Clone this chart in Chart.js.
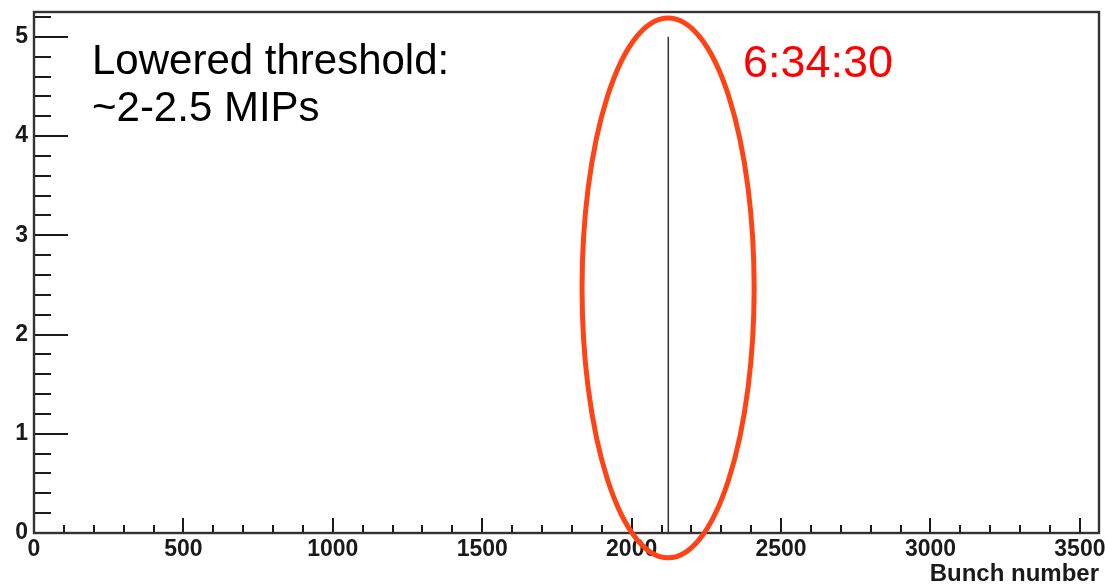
<!DOCTYPE html>
<html>
<head>
<meta charset="utf-8">
<script src="https://cdn.jsdelivr.net/npm/chart.js@4"></script>
<style>
  body { margin: 0; background: #fff; }
  #wrap { width: 1105px; height: 586px; }
</style>
</head>
<body>
<div id="wrap"><canvas id="bunchChart" width="1105" height="586"></canvas></div>
<script>
// Filled bunches and their hit counts
const bunches = [2122];
const counts = [5];

// Axis ranges and labelled ticks
const xRange = [0, 3564];
const yRange = [0, 5.25];
const xTickValues = [0, 500, 1000, 1500, 2000, 2500, 3000, 3500];
const yTickValues = [0, 1, 2, 3, 4, 5];

// Notes drawn on the plot
const noteLines = ["Lowered threshold:", "~2-2.5 MIPs"];
const timeLabel = "6:34:30";
// Circled region: centre bunch / centre count and half-widths
const ringCenter = [2122, 2.47];
const ringRadius = [288, 2.72];

// Build step outline of the histogram from the bins
function histogramPoints() {
  const pts = [{ x: xRange[0], y: 0 }];
  bunches.forEach((b, i) => {
    pts.push({ x: b, y: 0 }, { x: b, y: counts[i] }, { x: b + 1, y: counts[i] }, { x: b + 1, y: 0 });
  });
  pts.push({ x: xRange[1], y: 0 });
  return pts;
}

const ink = "#1a1a1a";

// ROOT-style inward ticks, frame, ellipse and notes
const frameTicks = {
  id: "frameTicks",
  afterDatasetsDraw(chart) {
    const { ctx, chartArea: a, scales: { x, y } } = chart;
    ctx.save();
    ctx.strokeStyle = ink;
    ctx.lineWidth = 2;
    ctx.beginPath();
    for (let v = 0; v <= xRange[1]; v += 100) {
      const px = Math.round(x.getPixelForValue(v));
      const len = v % 500 === 0 ? 15 : 8;
      ctx.moveTo(px, a.bottom);
      ctx.lineTo(px, a.bottom - len);
    }
    for (let v = 0; v <= yRange[1] + 1e-6; v += 0.2) {
      const py = Math.round(y.getPixelForValue(v));
      const major = Math.abs(v - Math.round(v)) < 1e-6;
      ctx.moveTo(a.left, py);
      ctx.lineTo(a.left + (major ? 34 : 17), py);
    }
    ctx.stroke();

    ctx.lineWidth = 2.4;
    ctx.strokeStyle = "#333";
    ctx.strokeRect(a.left, a.top, a.right - a.left, a.bottom - a.top);

    // red ring around the spike
    const cx = x.getPixelForValue(ringCenter[0]);
    const cy = y.getPixelForValue(ringCenter[1]);
    const rx = x.getPixelForValue(ringCenter[0] + ringRadius[0]) - cx;
    const ry = cy - y.getPixelForValue(ringCenter[1] + ringRadius[1]);
    ctx.beginPath();
    ctx.ellipse(cx, cy, rx, ry, 0, 0, Math.PI * 2);
    ctx.strokeStyle = "#ff4314";
    ctx.lineWidth = 5;
    ctx.stroke();

    ctx.textAlign = "left";
    ctx.textBaseline = "alphabetic";
    ctx.fillStyle = "#000";
    ctx.font = "42px 'Liberation Sans', Arial, sans-serif";
    noteLines.forEach((t, i) => ctx.fillText(t, 92, 74 + i * 47));

    ctx.fillStyle = "#ff0000";
    ctx.font = "45px 'Liberation Sans', Arial, sans-serif";
    ctx.fillText(timeLabel, 743, 77);
    ctx.restore();
  }
};

const tickFont = { family: "'Liberation Sans', Arial, sans-serif", size: 23, weight: "bold" };

// keep the frame fixed: no extra room for overhanging end labels
function noOverhang(s) {
  s.paddingLeft = s.paddingRight = s.paddingTop = s.paddingBottom = 0;
}

new Chart(document.getElementById("bunchChart"), {
  type: "line",
  data: {
    datasets: [{
      data: histogramPoints(),
      borderColor: "#333",
      borderWidth: 1.5,
      pointRadius: 0,
      tension: 0,
      fill: false
    }]
  },
  options: {
    responsive: false,
    animation: false,
    layout: { padding: { top: 12, right: 6, left: 0, bottom: 0 } },
    plugins: { legend: { display: false }, tooltip: { enabled: false } },
    scales: {
      x: {
        type: "linear",
        min: xRange[0],
        max: xRange[1],
        grid: { display: false, drawTicks: false },
        border: { display: false },
        afterBuildTicks: s => { s.ticks = xTickValues.map(v => ({ value: v })); },
        afterFit: s => { s.height = 53; noOverhang(s); },
        ticks: { color: ink, font: tickFont, padding: 3, maxRotation: 0, autoSkip: false, callback: v => String(v) },
        title: {
          display: true,
          text: "Bunch number",
          align: "end",
          color: ink,
          font: { family: "'Liberation Sans', Arial, sans-serif", size: 24, weight: "bold", lineHeight: 1 },
          padding: { top: 0, bottom: 0 }
        }
      },
      y: {
        type: "linear",
        min: yRange[0],
        max: yRange[1],
        grid: { display: false, drawTicks: false },
        border: { display: false },
        afterBuildTicks: s => { s.ticks = yTickValues.map(v => ({ value: v })); },
        afterFit: s => { s.width = 34; noOverhang(s); },
        ticks: { color: ink, font: tickFont, padding: 6, callback: v => String(v) }
      }
    }
  },
  plugins: [frameTicks]
});
</script>
</body>
</html>
